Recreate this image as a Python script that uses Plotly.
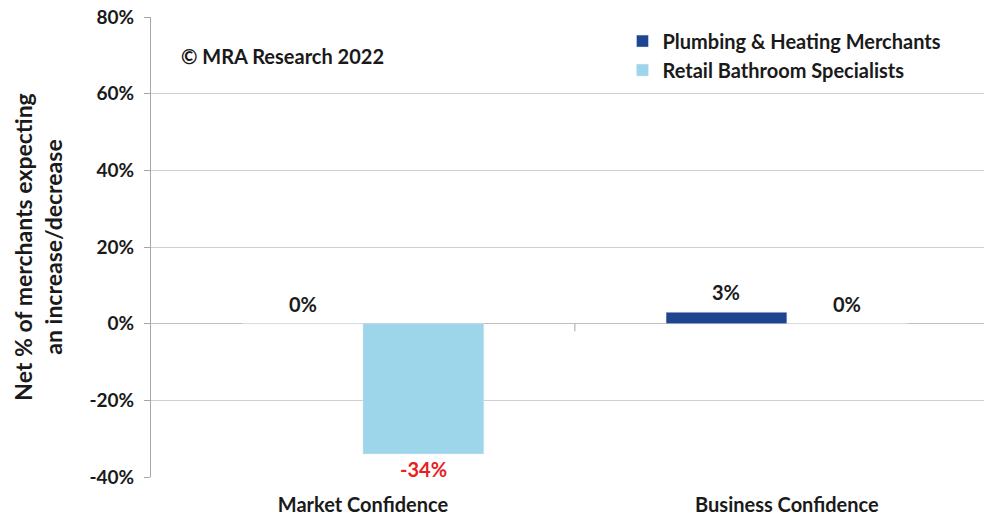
import plotly.graph_objects as go

categories = ["Market Confidence", "Business Confidence"]
series_names = ["Plumbing & Heating Merchants", "Retail Bathroom Specialists"]
plumbing = [0, 3]
retail = [-34, 0]
y_ticks = [-40, -20, 0, 20, 40, 60, 80]
y_tick_labels = ["-40%", "-20%", "0%", "20%", "40%", "60%", "80%"]

FONT = "Lato"
DARK = "#1F4590"
LIGHT = "#9DD5EA"
BARGAP = 0.43

x_idx = list(range(len(categories)))

fig = go.Figure()
fig.add_trace(go.Bar(x=x_idx, y=plumbing, name=series_names[0], marker_color=DARK))
fig.add_trace(go.Bar(x=x_idx, y=retail, name=series_names[1], marker_color=LIGHT))

# data labels, placed at each bar's centre within its group
bar_w = (1 - BARGAP) / 2
for s, vals in enumerate([plumbing, retail]):
    off = (s - 0.5) * bar_w
    for i, v in enumerate(vals):
        fig.add_annotation(
            x=x_idx[i] + off, y=v, xref="x", yref="y", showarrow=False,
            text=f"{v}%", yanchor="middle",
            yshift=(-15 if v < 0 else 20),
            font=dict(family=FONT, size=20, weight="bold",
                      color=("#E8201E" if v < 0 else "#1A1A1A")),
        )

fig.update_layout(
    width=984, height=515,
    margin=dict(l=151, r=0, t=17, b=38),
    paper_bgcolor="white", plot_bgcolor="white",
    barmode="group", bargap=BARGAP, bargroupgap=0,
    font=dict(family=FONT, size=19, color="#1A1A1A"),
    legend=dict(
        x=0.566, y=0.99, xanchor="left", yanchor="top",
        font=dict(family=FONT, size=20, weight="bold"),
        bgcolor="rgba(0,0,0,0)", itemwidth=30, tracegroupgap=0,
    ),
    xaxis=dict(
        tickmode="array", tickvals=x_idx, ticktext=categories,
        range=[-0.5, 1.465], showgrid=False, zeroline=False, showline=False,
        ticks="", tickfont=dict(family=FONT, size=20, weight="bold"),
        ticklabelstandoff=14,
    ),
    yaxis=dict(
        range=[-40, 80], tickmode="array", tickvals=y_ticks, ticktext=y_tick_labels,
        showgrid=True, gridcolor="#D0D0D0", gridwidth=1,
        zeroline=True, zerolinecolor="#BFBFBF", zerolinewidth=1,
        showline=True, linecolor="#A6A6A6", linewidth=1,
        ticks="outside", ticklen=6, tickcolor="#A6A6A6",
        tickfont=dict(family=FONT, size=19, weight="bold"),
        ticklabelstandoff=6,
        title=dict(text="Net % of merchants expecting<br>an increase/decrease",
                   font=dict(family=FONT, size=23, weight="bold"), standoff=20),
    ),
    showlegend=True,
)

fig.add_annotation(
    text="© MRA Research 2022", xref="paper", yref="paper",
    x=0.034, y=0.915, xanchor="left", yanchor="middle", showarrow=False,
    font=dict(family=FONT, size=20, weight="bold", color="#1A1A1A"),
)
# small category separator tick on the zero line
fig.add_shape(type="line", xref="x", yref="y", x0=0.5, x1=0.5, y0=0, y1=-2,
              line=dict(color="#A6A6A6", width=1))

fig.write_html("out.html")
